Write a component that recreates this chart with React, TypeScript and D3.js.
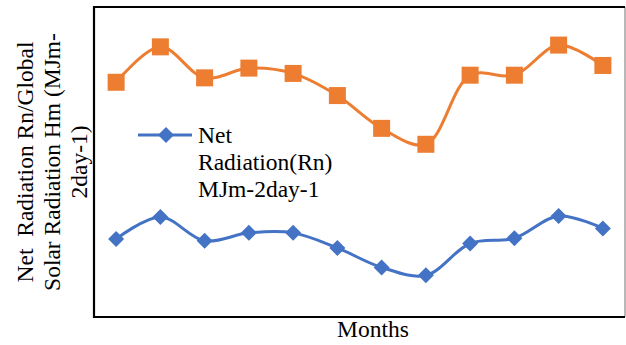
import React from "react";
import * as d3 from "d3";

const months = ["Jan", "Feb", "Mar", "Apr", "May", "Jun", "Jul", "Aug", "Sep", "Oct", "Nov", "Dec"];
const globalSolar = [26.5, 30.5, 27.0, 28.1, 27.5, 25.0, 21.3, 19.5, 27.3, 27.3, 30.7, 28.4];
const netRadiation = [8.8, 11.3, 8.6, 9.5, 9.5, 7.8, 5.6, 4.7, 8.3, 8.9, 11.4, 10.0];
const yDomain = [0, 35];

const W = 626;
const H = 345;
const L = 94, R = 625, T = 7, B = 317;
const FONT = "'Liberation Serif', 'Times New Roman', serif";
const ORANGE = "#ED7D31";
const BLUE = "#4472C4";

export default function App() {
  const x = d3.scaleBand<string>().domain(months).range([L, R]).padding(0);
  const y = d3.scaleLinear().domain(yDomain).range([B, T]);
  const cx = (m: string) => (x(m) as number) + x.bandwidth() / 2;
  const line = d3
    .line<number>()
    .x((_, i) => cx(months[i]))
    .y((d) => y(d))
    .curve(d3.curveCatmullRom.alpha(0.5));
  const sq = 17;
  const dm = 8;
  const diamond = (px: number, py: number) =>
    `M${px},${py - dm}L${px + dm},${py}L${px},${py + dm}L${px - dm},${py}Z`;
  const labelCy = (T + B) / 2;
  return (
    <svg width={W} height={H} style={{ position: "absolute", left: 0, top: 0, background: "#fff" }}>
      <rect x={0} y={0} width={W} height={H} fill="#fff" />
      <line x1={R} y1={T} x2={R} y2={B} stroke="#888" strokeWidth={1.2} />
      <path d={`M${R},${T}H${L}V${B}H${R}`} fill="none" stroke="#000" strokeWidth={2.2} />
      <path d={line(globalSolar) || ""} fill="none" stroke={ORANGE} strokeWidth={3} />
      {globalSolar.map((v, i) => (
        <rect key={"s" + i} x={cx(months[i]) - sq / 2} y={y(v) - sq / 2} width={sq} height={sq} fill={ORANGE} />
      ))}
      <path d={line(netRadiation) || ""} fill="none" stroke={BLUE} strokeWidth={3} />
      {netRadiation.map((v, i) => (
        <path key={"d" + i} d={diamond(cx(months[i]), y(v))} fill={BLUE} />
      ))}
      {/* legend */}
      <line x1={138} y1={135} x2={192} y2={135} stroke={BLUE} strokeWidth={3} />
      <path d={diamond(166, 135)} fill={BLUE} />
      <g fontFamily={FONT} fontSize={23.5} fill="#000">
        <text x={198} y={143}>Net</text>
        <text x={198} y={170}>Radiation(Rn)</text>
        <text x={198} y={197}>MJm-2day-1</text>
      </g>
      {/* y label */}
      <g fontFamily={FONT} fontSize={23.5} fill="#000" textAnchor="middle">
        <text transform={`translate(33,${labelCy}) rotate(-90)`} xmlSpace="preserve" style={{ whiteSpace: "pre" }}>
          {"Net  Radiation Rn/Global"}
        </text>
        <text transform={`translate(60,${labelCy}) rotate(-90)`}>Solar Radiation Hm (MJm-</text>
        <text transform={`translate(87,${labelCy}) rotate(-90)`}>2day-1)</text>
      </g>
      <text x={373} y={337} fontFamily={FONT} fontSize={23.5} textAnchor="middle" fill="#000">
        Months
      </text>
    </svg>
  );
}
